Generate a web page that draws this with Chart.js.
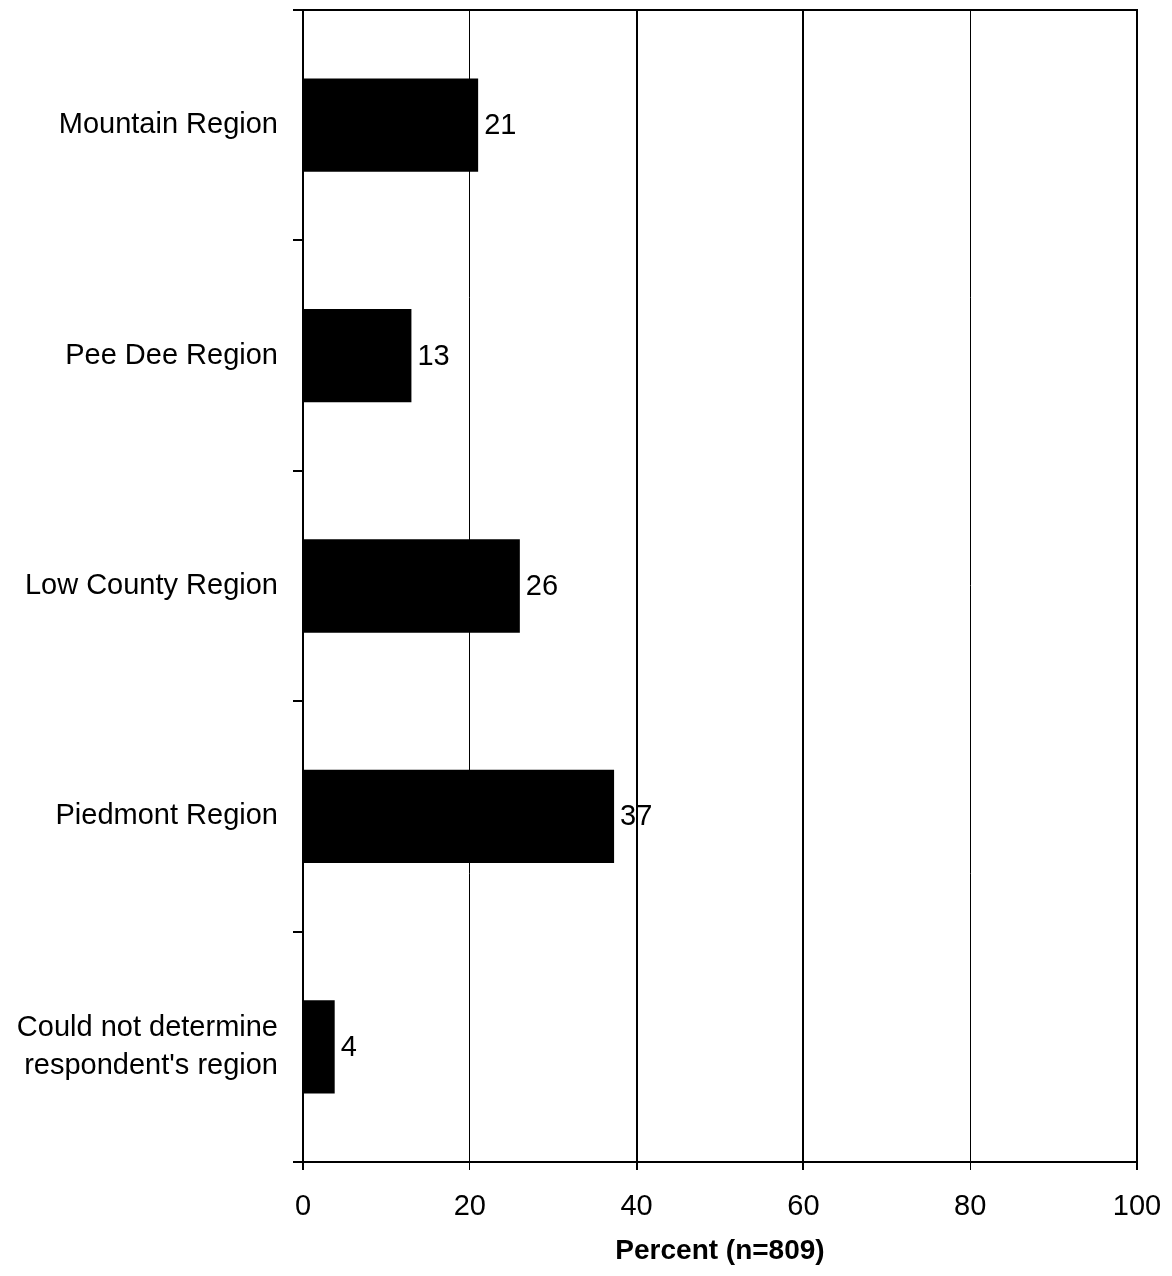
<!DOCTYPE html>
<html>
<head>
<meta charset="utf-8">
<script src="https://cdn.jsdelivr.net/npm/chart.js@4/dist/chart.umd.min.js"></script>
<style>
  html, body { margin: 0; padding: 0; background: #fff; }
  #wrap { width: 1172px; height: 1276px; }
</style>
</head>
<body>
<div id="wrap"><canvas id="regionChart"></canvas></div>
<script>
// данные
const regions = [
  "Mountain Region",
  "Pee Dee Region",
  "Low County Region",
  "Piedmont Region",
  ["Could not determine", "respondent's region"],
];
const percents = [21, 13, 26, 37.3, 3.8];
const xTicks = [0, 20, 40, 60, 80, 100];
const axisTitle = "Percent (n=809)";

const FONT = "'Liberation Sans', Arial, sans-serif";

// подписи значений справа от столбцов
const barLabels = {
  id: "barLabels",
  afterDatasetsDraw(chart) {
    const ctx = chart.ctx;
    const meta = chart.getDatasetMeta(0);
    ctx.save();
    ctx.font = "29px " + FONT;
    ctx.fillStyle = "#000";
    ctx.textAlign = "left";
    ctx.textBaseline = "middle";
    meta.data.forEach((bar, i) => {
      ctx.fillText(Math.round(percents[i]).toString(), bar.x + 6, bar.y + 1);
    });
    ctx.restore();
  },
};

// верхняя рамка области графика
const topBorder = {
  id: "topBorder",
  afterDraw(chart) {
    const { ctx, chartArea } = chart;
    ctx.save();
    ctx.strokeStyle = "#000";
    ctx.lineWidth = 2;
    ctx.beginPath();
    ctx.moveTo(chartArea.left, chartArea.top);
    ctx.lineTo(chartArea.right + 1, chartArea.top);
    ctx.stroke();
    ctx.restore();
  },
};

new Chart(document.getElementById("regionChart"), {
  type: "bar",
  data: {
    labels: regions,
    datasets: [
      {
        data: percents,
        backgroundColor: "#000",
        borderWidth: 0,
        categoryPercentage: 1,
        barPercentage: 0.405,
      },
    ],
  },
  plugins: [barLabels, topBorder],
  options: {
    indexAxis: "y",
    responsive: true,
    maintainAspectRatio: false,
    animation: false,
    layout: { padding: { top: 10, right: 35, left: 0, bottom: 0 } },
    plugins: {
      legend: { display: false },
      tooltip: { enabled: false },
    },
    scales: {
      x: {
        min: 0,
        max: 100,
        afterBuildTicks: (scale) => {
          scale.ticks = xTicks.map((v) => ({ value: v }));
        },
        afterFit: (scale) => {
          scale.height = 114;
          scale.paddingLeft = 0;
          scale.paddingRight = 0;
        },
        grid: {
          color: "#000",
          lineWidth: [2, 1, 2, 2, 1, 2],
          tickLength: 8,
          drawTicks: true,
        },
        border: { display: true, color: "#000", width: 2 },
        ticks: {
          color: "#000",
          font: { family: FONT, size: 29 },
          padding: 20,
          maxRotation: 0,
        },
        title: {
          display: true,
          text: axisTitle,
          color: "#000",
          font: { family: FONT, size: 28, weight: "bold" },
          padding: { top: 0, bottom: 8 },
        },
      },
      y: {
        offset: true,
        afterFit: (scale) => {
          scale.width = 303;
          scale.paddingTop = 0;
          scale.paddingBottom = 0;
        },
        grid: {
          offset: true,
          drawOnChartArea: false,
          color: "#000",
          lineWidth: 2,
          tickLength: 10,
        },
        border: { display: true, color: "#000", width: 2 },
        ticks: {
          color: "#000",
          font: { family: FONT, size: 29, lineHeight: 1.3 },
          padding: 15,
        },
      },
    },
  },
});
</script>
</body>
</html>
